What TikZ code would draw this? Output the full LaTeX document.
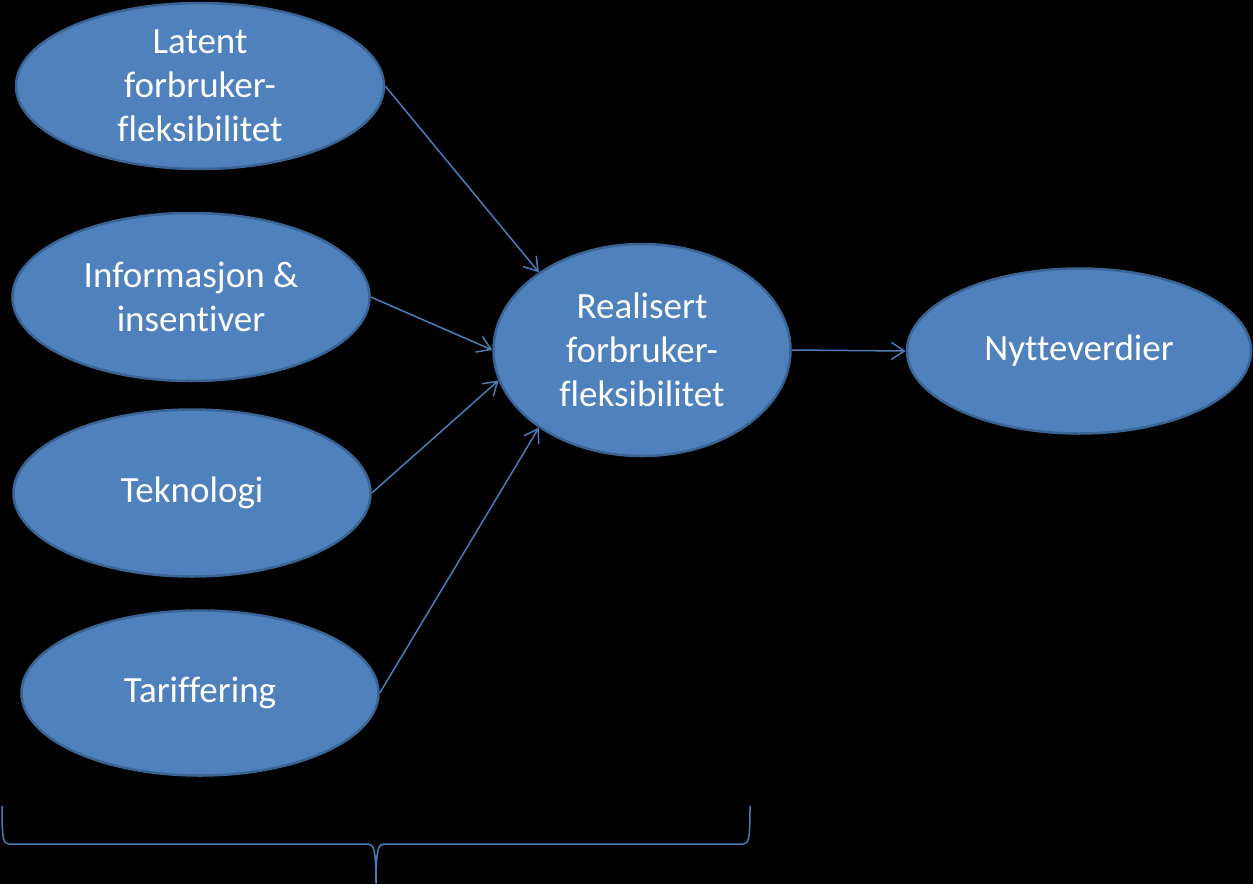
\documentclass[tikz,border=0pt]{standalone}
\usepackage{fontspec}
\setmainfont[Ligatures={NoCommon}]{Carlito}
\usetikzlibrary{shapes.geometric,arrows.meta}

\definecolor{ovalfill}{HTML}{4F81BD}
\definecolor{ovalline}{HTML}{3A6494}
\definecolor{pilblue}{HTML}{4A7EBB}

\begin{document}
\begin{tikzpicture}[x=1pt,y=-1pt]

\tikzset{Oval/.style = {ellipse, fill=ovalfill, draw=ovalline, line width=2.5pt,
                        inner sep=0pt, text=white, align=center,
                        font=\fontsize{37}{44}\selectfont},
         Pil/.style  = {draw=pilblue, line width=1.5pt,
                        -{Straight Barb[length=13pt,width=17pt,line width=1.5pt]}}}

\useasboundingbox (0,0) rectangle (1253,884);
\fill[black] (0,0) rectangle (1253,884);

\node[Oval, minimum width=368pt, minimum height=166pt] (lat)   at (200,86)  {Latent\\forbruker-\\fleksibilitet};
\node[Oval, minimum width=357pt, minimum height=168pt] (info)  at (191,297) {Informasjon \&\\insentiver};
\node[Oval, minimum width=357pt, minimum height=167pt] (tek)   at (192,493) {Teknologi};
\node[Oval, minimum width=357pt, minimum height=165pt] (tarif) at (200,693) {Tariffering};
\node[Oval, minimum width=297pt, minimum height=212pt] (real)  at (642,350) {Realisert\\forbruker-\\fleksibilitet};
\node[Oval, minimum width=344pt, minimum height=165pt] (nytte) at (1079,351) {Nytteverdier};

\draw[Pil] (lat.east)   -- (real.143);
\draw[Pil] (info.east)  -- (real.180);
\draw[Pil] (tek.east)   -- (real.192);
\draw[Pil] (tarif.east) -- (real.217);
\draw[Pil] (real.east)  -- (nytte.west);

% klammen nederst
\draw[pilblue, line width=1.5pt]
  (2,806) .. controls (2,838) and (3,844) .. (9,844) -- (368,844)
  .. controls (374,844) and (376,850) .. (376,884)
  .. controls (376,850) and (378,844) .. (384,844) -- (743,844)
  .. controls (749,844) and (750,838) .. (750,806);

\end{tikzpicture}
\end{document}
